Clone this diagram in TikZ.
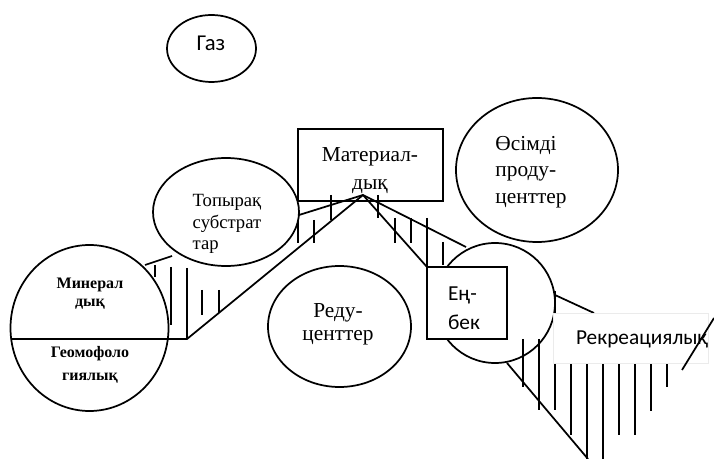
\documentclass[tikz,border=0pt]{standalone}
\usepackage{fontspec}
\setmainfont{Liberation Serif}
\newfontfamily\calibfont{Carlito}
\usetikzlibrary{shapes.geometric}

\def\u{0.75pt}

\begin{document}
\begin{tikzpicture}[x=0.75pt,y=-0.75pt,
  every node/.style={inner sep=0pt, outer sep=0pt},
  oval/.style={ellipse, draw, line width=1.3pt, fill=white},
  framebox/.style={rectangle, draw, line width=1.3pt},
  edge/.style={line width=1.3pt},
  hatch/.style={line width=1.3pt},
  serif14/.style={font=\fontsize{14}{16}\selectfont},
  serif16/.style={font=\fontsize{16}{20}\selectfont},
  sans16/.style={font=\calibfont\fontsize{16}{21.5}\selectfont},
  boldsmall/.style={font=\bfseries\fontsize{12}{13.5}\selectfont, align=center},
]
\useasboundingbox (0,0) rectangle (714,459);

% ---- shapes ----
\node[oval, minimum width=89*\u, minimum height=67*\u] (gaz) at (211.5,48.5) {};
\node[font=\calibfont\fontsize{17}{20}\selectfont] (gaztxt) at (211,43) {Газ};

\node[oval, minimum width=158*\u, minimum height=166*\u] (geo) at (89.5,328) {};
\node[oval, minimum width=146*\u, minimum height=108*\u] (topyr) at (226,212) {};
\node[framebox, minimum width=145*\u, minimum height=72*\u] (mat) at (370.5,165) {};
\node[oval, minimum width=162*\u, minimum height=144*\u] (osim) at (537,170) {};
\node[oval, minimum width=143*\u, minimum height=121*\u] (redu) at (339.5,326.5) {};
\node[oval, minimum width=120*\u, minimum height=120*\u] (encirc) at (495,303) {};
\node[framebox, fill=white, minimum width=80*\u, minimum height=72*\u] (enb) at (467,303) {};

% ---- wedge corners ----
\coordinate (d1)   at (11,339);
\coordinate (wA)   at (187,339);
\coordinate (peak) at (363,195);
\coordinate (wB)   at (145,265);
\coordinate (wC)   at (172,256);
\coordinate (wD)   at (299,215);
\coordinate (wF)   at (466,247);
\coordinate (wG)   at (555,295);
\coordinate (wH)   at (594,313);
\coordinate (wI)   at (507,363);
\coordinate (wJ)   at (588,459);
\coordinate (wK)   at (682,370);
\coordinate (wL)   at (714,318);

% ---- wedge edges ----
\draw[edge] (d1) -- (wA) -- (peak);
\draw[edge] (wB) -- (wC);
\draw[edge] (wD) -- (peak) -- (wF);
\draw[edge] (peak) -- (enb.north west);
\draw[edge] (wG) -- (wH);
\draw[edge] (wI) -- (wJ);

% ---- hatching ----
\foreach \x/\a/\b in {155/265/277, 171/267/325, 187/268/339, 202/290/315, 219/290/313,
                      298/220/243, 314/220/243, 331/195/220,
                      378/195/218, 395/218/243, 411/218/243, 427/218/267, 443/242/265,
                      555/291/313,
                      523/339/387, 539/339/410, 555/364/410, 571/364/435, 587/364/459,
                      603/364/459, 619/364/435, 635/364/435, 651/364/411, 667/364/387}
  \draw[hatch] (\x,\a) -- (\x,\b);

% ---- recreation label box ----
\node[rectangle, fill=white, draw=black!8, line width=0.4pt,
      minimum width=155*\u, minimum height=50*\u] (rek) at (630.5,338) {};
\draw[edge] (wK) -- (wL);

% ---- texts ----
\node[boldsmall] (mintxt) at (90,294) {Минерал\\дық};
\node[boldsmall, font=\bfseries\fontsize{12}{17}\selectfont] (geomtxt) at (90,365) {Геомофоло\\гиялық};
\node[serif14, align=left] (topyrtxt) at (227,224) {Топырақ\\субстрат\\тар};
\node[serif16, align=center, font=\fontsize{16}{21}\selectfont] (mattxt) at (370,171) {Материал-\\дық};
\node[serif16, align=left] (osimtxt) at (531,172) {Өсімді\\проду-\\центтер};
\node[serif16, align=center, font=\fontsize{16}{17}\selectfont] (redutxt) at (338,324) {Реду-\\центтер};
\node[sans16, align=left] (enbtxt) at (464,308) {Ең-\\бек};
\node[font=\calibfont\fontsize{16}{20}\selectfont, anchor=base west] (rektxt) at (576,345) {Рекреациялық};

\end{tikzpicture}
\end{document}
